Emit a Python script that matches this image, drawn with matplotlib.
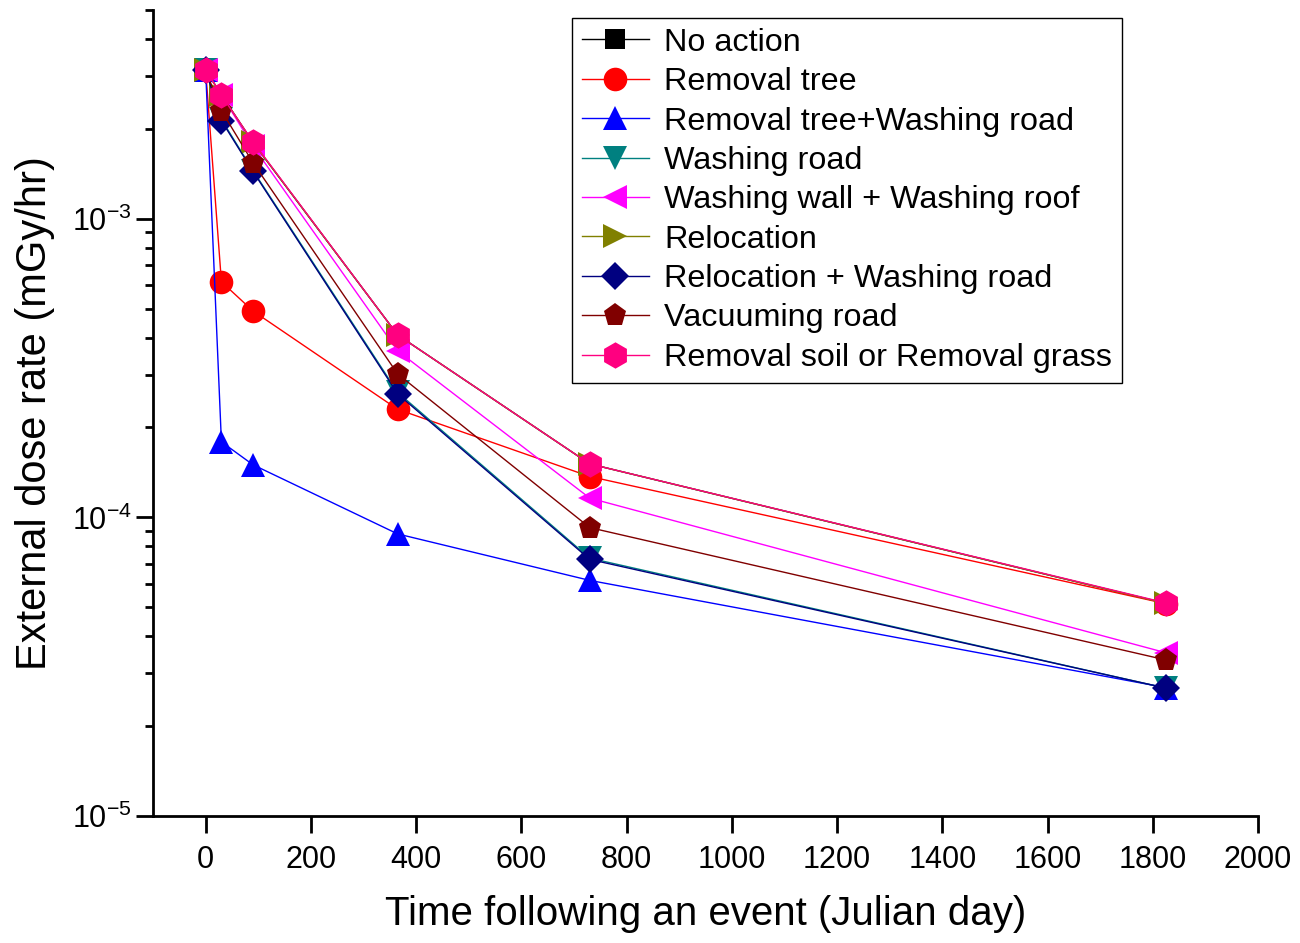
import matplotlib.pyplot as plt

plt.rcParams['font.family'] = ['Liberation Sans', 'DejaVu Sans']
plt.rcParams['mathtext.default'] = 'regular'

days = [0, 30, 90, 365, 730, 1825]

labels = ["No action", "Removal tree", "Removal tree+Washing road", "Washing road",
          "Washing wall + Washing roof", "Relocation", "Relocation + Washing road",
          "Vacuuming road", "Removal soil or Removal grass"]

no_action = [3.15e-3, 2.60e-3, 1.80e-3, 4.08e-4, 1.51e-4, 5.15e-5]
removal_tree = [3.15e-3, 6.15e-4, 4.91e-4, 2.30e-4, 1.37e-4, 5.14e-5]
tree_road = [3.15e-3, 1.79e-4, 1.50e-4, 8.8e-5, 6.15e-5, 2.69e-5]
washing_road = [3.15e-3, 2.15e-3, 1.45e-3, 2.62e-4, 7.3e-5, 2.68e-5]
wall_roof = [3.15e-3, 2.60e-3, 1.75e-3, 3.61e-4, 1.16e-4, 3.52e-5]
relocation = [3.15e-3, 2.60e-3, 1.80e-3, 4.08e-4, 1.51e-4, 5.15e-5]
relocation_road = [3.15e-3, 2.13e-3, 1.44e-3, 2.59e-4, 7.23e-5, 2.68e-5]
vacuuming = [3.15e-3, 2.30e-3, 1.54e-3, 3.02e-4, 9.24e-5, 3.33e-5]
removal_soil = [3.15e-3, 2.59e-3, 1.81e-3, 4.08e-4, 1.51e-4, 5.17e-5]

series = [no_action, removal_tree, tree_road, washing_road, wall_roof,
          relocation, relocation_road, vacuuming, removal_soil]
colors = ['#000000', '#FF0000', '#0000FF', '#008080', '#FF00FF',
          '#808000', '#000080', '#800000', '#FF0080']
markers = ['s', 'o', '^', 'v', '<', '>', 'D', 'p', 'h']
sizes = [12, 17, 17, 17, 17, 17, 14, 17, 19]

fig = plt.figure(figsize=(13, 9.43), dpi=100)
ax = fig.add_axes([0.1177, 0.1347, 0.85, 0.8547])

for vals, lab, c, m, s in zip(series, labels, colors, markers, sizes):
    ax.plot(days, vals, color=c, marker=m, markersize=s, lw=1, label=lab,
            markeredgewidth=0)

ax.set_yscale('log')
ax.set_ylim(1e-5, 5e-3)
ax.set_xlim(-100, 2000)
ax.set_xticks(range(0, 2001, 200))

ax.spines['top'].set_visible(False)
ax.spines['right'].set_visible(False)
for sp in ['left', 'bottom']:
    ax.spines[sp].set_linewidth(2)
ax.tick_params(which='major', direction='out', length=12, width=2, labelsize=22)
ax.tick_params(which='minor', direction='out', length=6, width=2)
ax.tick_params(axis='x', which='minor', bottom=False)
ax.tick_params(axis='x', which='major', pad=9)

ax.set_xlabel("Time following an event (Julian day)", fontsize=29, labelpad=14)
ax.set_ylabel("External dose rate (mGy/hr)", fontsize=30, labelpad=12)

leg = ax.legend(loc='upper left', bbox_to_anchor=(0.379, 0.99), borderaxespad=0,
                fontsize=23.3, fancybox=False, framealpha=1, edgecolor='black',
                handlelength=2.1, handletextpad=0.45, labelspacing=0.29,
                borderpad=0.3)
leg.get_frame().set_linewidth(1)
leg.legend_handles[0].set_markersize(15)

fig.savefig('out.png', dpi=100)
